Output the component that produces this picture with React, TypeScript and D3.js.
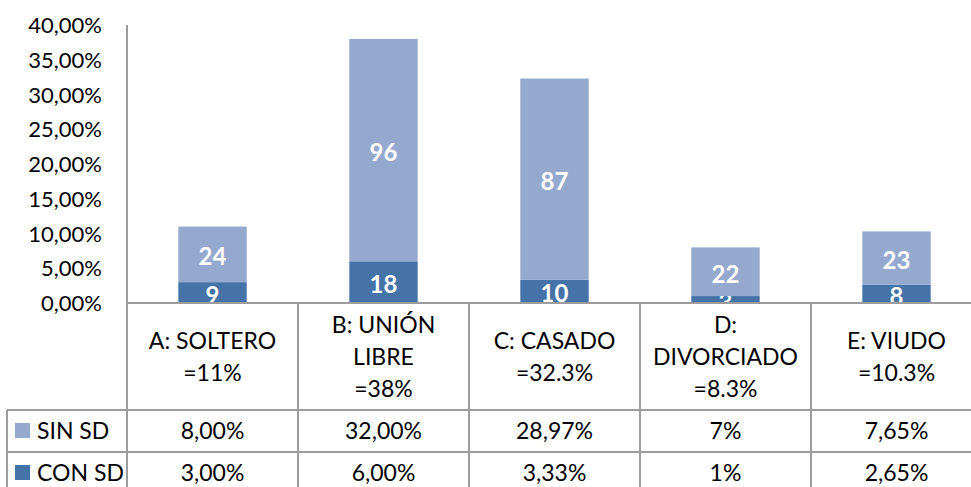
import React from "react";
import * as d3 from "d3";

// estado civil vs SD, stacked bars + data table
const categories = ["A", "B", "C", "D", "E"];
const categoryLines = [
  ["A: SOLTERO", "=11%"],
  ["B: UNIÓN", "LIBRE", "=38%"],
  ["C: CASADO", "=32.3%"],
  ["D:", "DIVORCIADO", "=8.3%"],
  ["E: VIUDO", "=10.3%"],
];
const sinSd = [8, 32, 28.97, 7, 7.65];
const conSd = [3, 6, 3.33, 1, 2.65];
const sinCounts = ["24", "96", "87", "22", "23"];
const conCounts = ["9", "18", "10", "3", "8"];
const sinTable = ["8,00%", "32,00%", "28,97%", "7%", "7,65%"];
const conTable = ["3,00%", "6,00%", "3,33%", "1%", "2,65%"];
const yTicks = [0, 5, 10, 15, 20, 25, 30, 35, 40];

const W = 971;
const H = 487;
const left = 127;
const right = 982;
const top = 25;
const bottom = 303;
const headerBottom = 410;
const row1Bottom = 452;
const row2Bottom = 494;
const legendLeft = 7;

const SIN_COLOR = "#95a9cf";
const CON_COLOR = "#4572a7";
const LINE = "#9c9c9c";
const FONT = "Lato, 'Open Sans', sans-serif";

const App: React.FC = () => {
  const rows = categories.map((c, i) => ({ cat: c, con: conSd[i], sin: sinSd[i] }));
  const series = d3.stack<any>().keys(["con", "sin"])(rows);

  const x = d3.scaleBand<string>()
    .domain(categories)
    .range([left, right])
    .paddingInner(0.6)
    .paddingOuter(0.3);
  const y = d3.scaleLinear().domain([0, 40]).range([bottom, top]);

  const step = x.step();
  const colStart = (c: string) => (x(c) as number) - (step - x.bandwidth()) / 2;
  const fmt = (v: number) => d3.format(".2f")(v).replace(".", ",") + "%";

  const colors: Record<string, string> = { con: CON_COLOR, sin: SIN_COLOR };
  const counts: Record<string, string[]> = { con: conCounts, sin: sinCounts };

  const tableRows = [
    { name: "SIN SD", color: SIN_COLOR, values: sinTable, y0: headerBottom, y1: row1Bottom },
    { name: "CON SD", color: CON_COLOR, values: conTable, y0: row1Bottom, y1: row2Bottom },
  ];

  return (
    <svg width={W} height={H} style={{ position: "absolute", left: 0, top: 0, background: "#fff" }}
      fontFamily={FONT}>
      <defs>
        <clipPath id="plot">
          <rect x={left} y={0} width={right - left} height={bottom} />
        </clipPath>
      </defs>

      {/* y axis ticks */}
      {yTicks.map((t) => (
        <text key={t} x={102} y={y(t) + 8} textAnchor="end" fontSize={22} fill="#000">
          {fmt(t)}
        </text>
      ))}

      {/* bars */}
      <g clipPath="url(#plot)">
        {series.map((s) => (
          <g key={s.key}>
            {s.map((d, i) => (
              <rect key={i} x={x(categories[i])} width={x.bandwidth()}
                y={y(d[1])} height={y(d[0]) - y(d[1])} fill={colors[s.key]} />
            ))}
            {s.map((d, i) => (
              <text key={"t" + i} x={(x(categories[i]) as number) + x.bandwidth() / 2}
                y={(y(d[0]) + y(d[1])) / 2 + 11} textAnchor="middle" fontSize={24}
                fontWeight="bold" fill="#fff">
                {counts[s.key][i]}
              </text>
            ))}
          </g>
        ))}
      </g>

      {/* table text */}
      {categories.map((c, i) => {
        const cx = colStart(c) + step / 2;
        const lines = categoryLines[i];
        const mid = (bottom + headerBottom) / 2 + 8;
        return (
          <g key={c}>
            {lines.map((l, j) => (
              <text key={j} x={cx} y={mid + (j - (lines.length - 1) / 2) * 32}
                textAnchor="middle" fontSize={23} fill="#000">{l}</text>
            ))}
            {tableRows.map((r) => (
              <text key={r.name} x={cx} y={(r.y0 + r.y1) / 2 + 8} textAnchor="middle"
                fontSize={23} fill="#000">{r.values[i]}</text>
            ))}
          </g>
        );
      })}

      {/* legend cells */}
      {tableRows.map((r) => (
        <g key={r.name}>
          <rect x={15} y={(r.y0 + r.y1) / 2 - 8} width={15} height={15} fill={r.color} />
          <text x={37} y={(r.y0 + r.y1) / 2 + 8} fontSize={23} fill="#000">{r.name}</text>
        </g>
      ))}

      {/* grid lines */}
      <g stroke={LINE} strokeWidth={2}>
        <line x1={left} x2={left} y1={top} y2={H} />
        <line x1={left} x2={W} y1={bottom} y2={bottom} />
        <line x1={legendLeft} x2={W} y1={headerBottom} y2={headerBottom} />
        <line x1={legendLeft} x2={W} y1={row1Bottom} y2={row1Bottom} />
        <line x1={legendLeft} x2={legendLeft} y1={headerBottom} y2={H} />
        {categories.slice(1).map((c) => (
          <line key={c} x1={colStart(c)} x2={colStart(c)} y1={bottom} y2={H} />
        ))}
      </g>
    </svg>
  );
};

export default App;
